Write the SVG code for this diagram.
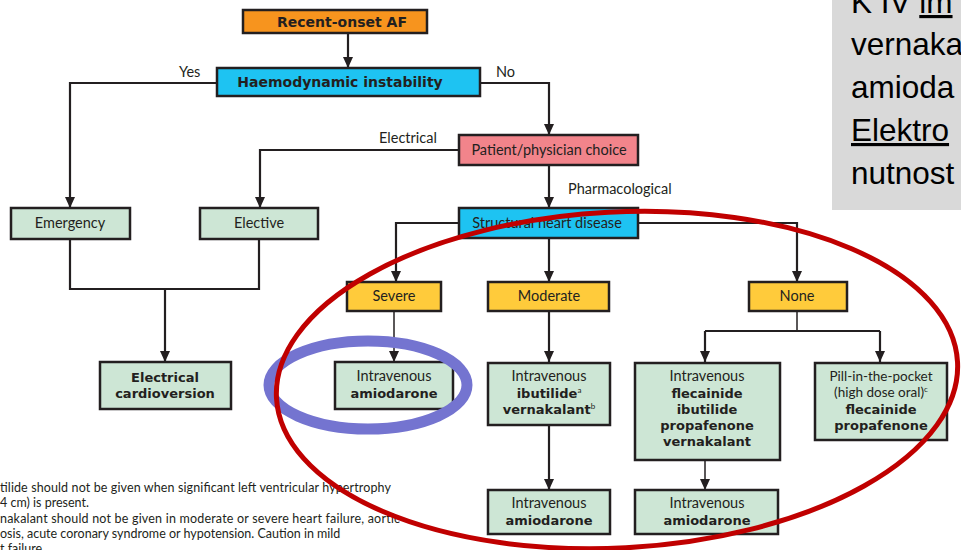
<svg xmlns="http://www.w3.org/2000/svg" width="961" height="550" viewBox="0 0 961 550">
<style>
.box{stroke:#231F20;stroke-width:2.5}
.g{fill:#CDE6D5}
.y{fill:#FFCB3B}
.b{fill:#1EC3F2}
.t{font-family:Lato,"Open Sans",sans-serif;font-size:14.5px;fill:#231F20;text-anchor:middle}
.bd{font-family:"DejaVu Sans",Lato,sans-serif;font-weight:bold;font-size:13px}
.hd{font-size:14px}
.sm{font-size:13.5px}
.lab{font-family:Lato,"Open Sans",sans-serif;font-size:14.5px;fill:#231F20}
.c{fill:none;stroke:#231F20;stroke-width:2.2}
.thin{stroke-width:1.5}
.fn{font-family:Lato,"Open Sans",sans-serif;font-size:12.5px;fill:#231F20}
.gt{font-family:"Liberation Sans",Arial,sans-serif;font-size:31.5px;fill:#000}
.sp{font-family:Lato,sans-serif;font-size:8px;font-weight:normal}
</style>
<defs>
<marker id="ad" markerUnits="userSpaceOnUse" markerWidth="12" markerHeight="12" viewBox="0 0 12 12" refX="11" refY="6" orient="auto">
<path d="M0,1 L11,6 L0,11 Z" fill="#231F20"/>
</marker>
</defs>

<rect x="832" y="0" width="129" height="210" fill="#D9D9D9"/>
<g id="side-note">
<text class="gt" x="851" y="13">K IV <tspan text-decoration="underline">im</tspan></text>
<text class="gt" x="851" y="55">vernaka</text>
<text class="gt" x="851" y="98">amioda</text>
<text class="gt" x="851" y="141" text-decoration="underline">Elektro</text>
<text class="gt" x="851" y="184">nutnost</text>
</g>

<g id="connectors">
<path class="c" d="M348,33 V68" marker-end="url(#ad)"/>
<path class="c" d="M217,83 H70 V208" marker-end="url(#ad)"/>
<path class="c" d="M480,83 H549 V135" marker-end="url(#ad)"/>
<path class="c" d="M459,150 H260 V208" marker-end="url(#ad)"/>
<path class="c" d="M549,165 V208" marker-end="url(#ad)"/>
<path class="c" d="M459,223 H396 V282" marker-end="url(#ad)"/>
<path class="c" d="M549,238 V282" marker-end="url(#ad)"/>
<path class="c" d="M638,223 H797 V282" marker-end="url(#ad)"/>
<path class="c" d="M70,239 V289 H259 V239"/>
<path class="c" d="M165,289 V362" marker-end="url(#ad)"/>
<path class="c thin" d="M394,311 V362" marker-end="url(#ad)"/>
<path class="c" d="M549,311 V362" marker-end="url(#ad)"/>
<path class="c thin" d="M797,311 V331"/>
<path class="c" d="M705,331 H880"/>
<path class="c" d="M705,331 V362" marker-end="url(#ad)"/>
<path class="c" d="M880,331 V362" marker-end="url(#ad)"/>
<path class="c" d="M549,425 V490" marker-end="url(#ad)"/>
<path class="c thin" d="M705,460 V490" marker-end="url(#ad)"/>
<text class="lab" x="179" y="77">Yes</text>
<text class="lab" x="496" y="77">No</text>
<text class="lab" x="379" y="143">Electrical</text>
<text class="lab" x="568" y="194">Pharmacological</text>
</g>

<g id="recent-onset">
<rect class="box" x="243" y="10" width="184" height="23" fill="#F7941E"/>
<text class="t bd hd" x="342" y="26.5">Recent-onset AF</text>
</g>
<g id="haemodynamic">
<rect class="box b" x="217" y="68" width="263" height="28"/>
<text class="t bd hd" x="340" y="87">Haemodynamic instability</text>
</g>
<g id="patient-choice">
<rect class="box" x="459" y="135" width="179" height="30" fill="#F2848B"/>
<text class="t" x="549" y="155">Patient/physician choice</text>
</g>
<g id="structural">
<rect class="box b" x="459" y="208" width="179" height="30"/>
<text class="t" x="547" y="228">Structural heart disease</text>
</g>
<g id="emergency">
<rect class="box g" x="11" y="208" width="119" height="31"/>
<text class="t" x="70" y="228">Emergency</text>
</g>
<g id="elective">
<rect class="box g" x="200" y="208" width="118" height="31"/>
<text class="t" x="259" y="228">Elective</text>
</g>
<g id="cardioversion">
<rect class="box g" x="100" y="362" width="131" height="47"/>
<text class="t bd" x="165" y="382">Electrical</text>
<text class="t bd" x="165" y="398">cardioversion</text>
</g>
<g id="severe">
<rect class="box y" x="347" y="282" width="94" height="29"/>
<text class="t" x="394" y="301">Severe</text>
</g>
<g id="moderate">
<rect class="box y" x="488" y="282" width="121" height="29"/>
<text class="t" x="549" y="301">Moderate</text>
</g>
<g id="none">
<rect class="box y" x="749" y="282" width="98" height="29"/>
<text class="t" x="797" y="301">None</text>
</g>
<g id="severe-amiodarone">
<rect class="box g" x="335" y="362" width="118" height="47"/>
<text class="t" x="394" y="381">Intravenous</text>
<text class="t bd" x="394" y="398">amiodarone</text>
</g>
<g id="moderate-drugs">
<rect class="box g" x="488" y="363" width="122" height="62"/>
<text class="t" x="549" y="381">Intravenous</text>
<text class="t bd" x="549" y="398">ibutilide<tspan class="sp" dy="-5">a</tspan></text>
<text class="t bd" x="549" y="414">vernakalant<tspan class="sp" dy="-5">b</tspan></text>
</g>
<g id="none-iv">
<rect class="box g" x="635" y="363" width="145" height="97"/>
<text class="t" x="707" y="381">Intravenous</text>
<text class="t bd" x="707" y="398">flecainide</text>
<text class="t bd" x="707" y="414">ibutilide</text>
<text class="t bd" x="707" y="430">propafenone</text>
<text class="t bd" x="707" y="446">vernakalant</text>
</g>
<g id="pill-in-pocket">
<rect class="box g" x="815" y="363" width="132" height="77"/>
<text class="t sm" x="881" y="380.5">Pill-in-the-pocket</text>
<text class="t sm" x="881" y="397">(high dose oral)<tspan class="sp" dy="-5">c</tspan></text>
<text class="t bd" x="881" y="414">flecainide</text>
<text class="t bd" x="881" y="430">propafenone</text>
</g>
<g id="moderate-amiodarone">
<rect class="box g" x="488" y="490" width="122" height="44"/>
<text class="t" x="549" y="508">Intravenous</text>
<text class="t bd" x="549" y="525">amiodarone</text>
</g>
<g id="none-amiodarone">
<rect class="box g" x="635" y="490" width="143" height="44"/>
<text class="t" x="707" y="508">Intravenous</text>
<text class="t bd" x="707" y="525">amiodarone</text>
</g>

<g id="footnotes">
<text class="fn" x="0" y="492" textLength="391">tilide should not be given when significant left ventricular hypertrophy</text>
<text class="fn" x="0" y="507">4 cm) is present.</text>
<text class="fn" x="0" y="523" textLength="400">nakalant should not be given in moderate or severe heart failure, aortic</text>
<text class="fn" x="0" y="538">osis, acute coronary syndrome or hypotension. Caution in mild</text>
<text class="fn" x="0" y="553">t failure.</text>
</g>

<g id="annotations">
<ellipse cx="368" cy="385" rx="99" ry="44" fill="none" stroke="#7474D0" stroke-width="11"/>
<ellipse cx="617" cy="380" rx="341" ry="168" fill="none" stroke="#C00000" stroke-width="5" transform="rotate(-3 617 380)"/>
</g>
</svg>
